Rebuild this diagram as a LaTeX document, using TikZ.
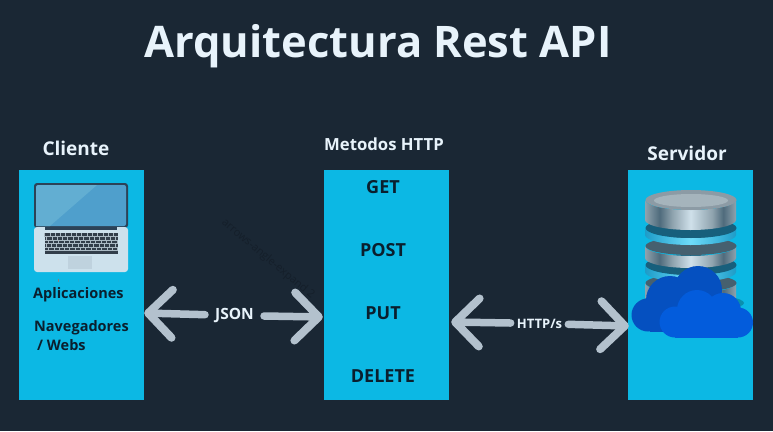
\documentclass[tikz,border=0pt]{standalone}
\usepackage{fontspec}
\setmainfont{Open Sans}
\usetikzlibrary{arrows.meta}
\definecolor{bgc}{HTML}{1A2734}
\definecolor{boxc}{HTML}{0CB8E4}
\definecolor{arrc}{HTML}{B3C1CD}
\definecolor{headc}{HTML}{E8F3FB}
\definecolor{inkc}{HTML}{0A1F2E}
\definecolor{lapframe}{HTML}{2C4257}
\definecolor{lapscreen}{HTML}{4F9FCC}
\definecolor{lapglare}{HTML}{62AED2}
\definecolor{lapbase}{HTML}{CDE1EC}
\definecolor{lapkeys}{HTML}{323E4A}
\definecolor{lapgrid}{HTML}{AAB9C3}
\definecolor{lappad}{HTML}{BFD2DE}
\definecolor{ghostc}{HTML}{151F2A}
\definecolor{cloudback}{HTML}{0550C0}
\definecolor{cloudfront}{HTML}{035CDC}
\definecolor{shadowc}{HTML}{0A8FAE}
\definecolor{mA}{HTML}{8FA3AE}
\definecolor{mB}{HTML}{4F6B7C}
\definecolor{mC}{HTML}{CFE0EA}
\definecolor{rA}{HTML}{1E9CC8}
\definecolor{rB}{HTML}{6FDCFA}
\definecolor{dbtop}{HTML}{8C9BA5}
\definecolor{dbtopin}{HTML}{A5B4BC}
\definecolor{dbdark}{HTML}{46606F}
\definecolor{ringtop}{HTML}{175F7C}
\pgfdeclarehorizontalshading{metal}{100bp}{
 color(0bp)=(mA);color(25bp)=(mA);
 color(33bp)=(mB);color(40bp)=(mA);color(50bp)=(mC);
 color(62bp)=(mA);color(68bp)=(mB);color(75bp)=(mA);color(100bp)=(mA)}
\pgfdeclarehorizontalshading{ringmetal}{100bp}{
 color(0bp)=(rA);color(25bp)=(rA);color(50bp)=(rB);color(75bp)=(rA);color(100bp)=(rA)}
\tikzset{
 panel/.style={fill=boxc,draw=none,minimum width=125pt,minimum height=230pt,inner sep=0pt},
 heading/.style={text=headc,font=\bfseries\fontsize{19}{21}\selectfont,inner sep=0pt},
 inktext/.style={text=inkc,font=\bfseries\fontsize{14.5}{17}\selectfont,inner sep=0pt},
 methodtext/.style={text=inkc,font=\bfseries\fontsize{18}{20}\selectfont,inner sep=0pt},
 linklabel/.style={text=headc,font=\bfseries},
 link/.style={draw=arrc,line width=7.5pt,line cap=round,line join=round,
  -{Straight Barb[length=24pt,width=48pt,round,line width=8pt]}}
}
\newcommand{\dbdisk}[3]{% top centre y, bottom centre y, shading
 \shade[shading=#3] (645,#1) -- (645,#2) arc[start angle=180,end angle=0,x radius=45.5,y radius=10] -- (736,#1) arc[start angle=0,end angle=180,x radius=45.5,y radius=10] -- cycle;
}
\begin{document}
\begin{tikzpicture}[x=1pt,y=-1pt]
\useasboundingbox (0,0) rectangle (773,431);
\fill[bgc] (0,0) rectangle (773,431);
% panels
\node[panel] (client) at (81.5,285) {};
\node[panel] (methods) at (386.5,285) {};
\node[panel] (server) at (690.5,285) {};
% headings
\node[text=headc,font=\bfseries\fontsize{43.5}{48}\selectfont,inner sep=0pt] (title) at (378,46) {Arquitectura Rest API};
\node[heading] (hclient) at (76,148) {Cliente};
\node[heading,font=\bfseries\fontsize{16.7}{19}\selectfont] (hmethods) at (384,144) {Metodos HTTP};
\node[heading] (hserver) at (687,153) {Servidor};
% methods
\node[methodtext] (get) at (383,187) {GET};
\node[methodtext] (post) at (383,250) {POST};
\node[methodtext] (put) at (383,313) {PUT};
\node[methodtext] (delete) at (383,376) {DELETE};
% client text
\node[inktext,anchor=west] (apps) at (33,295) {Aplicaciones};
\node[inktext,anchor=west] (nav) at (34,328) {Navegadores};
\node[inktext,anchor=west] (webs) at (37,345) {/ Webs};
% laptop
\fill[rounded corners=3pt,lapframe] (34,183) rectangle (128,228);
\fill[rounded corners=2pt,lapscreen] (36,185) rectangle (126,226);
\fill[lapglare] (38,226) -- (36,226) -- (36,187) -- (38,185) -- (97,185) -- (50,226) -- cycle;
\fill[rounded corners=3pt,lapbase] (34,227) rectangle (128,272);
\fill[lapframe] (45,227) rectangle (117,229.5);
\fill[lapkeys] (44.5,233) rectangle (118,254);
\foreach \r in {236.5,240,243.5,247,250.5}{\draw[lapgrid,line width=.6pt] (44.5,\r) -- (118,\r);}
\foreach \r/\o in {233/0,236.5/2,240/3.5,243.5/1.5,247/4}{
 \foreach \k in {0,...,13}{\draw[lapgrid,line width=.5pt] ({44.5+\o+\k*5.3},\r) -- ++(0,3.5);}}
\fill[lappad] (68,256) rectangle (92,269);
\fill[gray] (57.5,279) rectangle (59,282);
% database
\dbdisk{283}{300}{metal}
\fill[dbdark] (691,283) ellipse[x radius=45.5,y radius=9];
\dbdisk{265}{272}{ringmetal}
\fill[ringtop] (691,265) ellipse[x radius=45.5,y radius=10];
\dbdisk{246}{258}{metal}
\fill[dbdark] (691,246) ellipse[x radius=45.5,y radius=9];
\dbdisk{228}{235}{ringmetal}
\fill[ringtop] (691,228) ellipse[x radius=45.5,y radius=10];
\dbdisk{200}{220}{metal}
\fill[dbtop] (691,200) ellipse[x radius=45.5,y radius=10];
\fill[dbtopin] (691,200.5) ellipse[x radius=37,y radius=6.5];
% shadow
\fill[shadowc] (691,303) ellipse[x radius=53,y radius=9];
% cloud
\fill[cloudback] (698,290) circle[radius=24];
\fill[cloudback] (670,300) circle[radius=24];
\fill[cloudback] (648,315) circle[radius=16.5];
\fill[cloudback] (650,308) rectangle (720,331.5);
\fill[cloudfront] (697,310) circle[radius=20];
\fill[cloudfront] (723,311) circle[radius=18];
\fill[cloudfront] (675,322) circle[radius=15.5];
\fill[cloudfront] (738,322.5) circle[radius=15];
\fill[cloudfront] (675,310) rectangle (738,337.5);
% ghost text
\node[text=ghostc,font=\fontsize{11}{12}\selectfont,rotate=-40,inner sep=0pt] (ghost) at (268,259) {arrows-angle-expand 2};
% connectors
\node[linklabel,font=\bfseries\fontsize{15.5}{18}\selectfont,inner sep=10pt] (json) at (234.5,315.5) {JSON};
\node[linklabel,font=\bfseries\fontsize{13}{15}\selectfont,inner sep=6pt] (https) at (539.5,323.5) {HTTP/s};
\draw[link] (json) -- ([yshift=-28pt]client.east);
\draw[link] (json) -- ([yshift=-32pt,xshift=-1pt]methods.west);
\draw[link] (https) -- ([yshift=-37pt,xshift=2pt]methods.east);
\draw[link] (https) -- ([yshift=-41pt,xshift=1pt]server.west);
\end{tikzpicture}
\end{document}
